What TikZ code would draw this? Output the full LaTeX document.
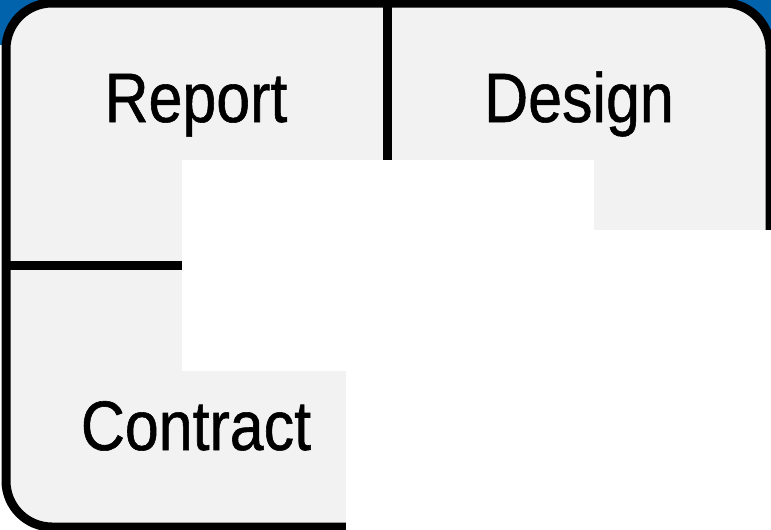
\documentclass[tikz,border=0pt]{standalone}
\usepackage{fontspec}
\setmainfont[FakeStretch=0.87,FakeBold=0.8]{Liberation Sans}
\definecolor{headerblue}{RGB}{0,99,172}
\definecolor{cellgray}{RGB}{242,242,242}
\begin{document}
\begin{tikzpicture}[x=1pt,y=-1pt,
  frame/.style={draw=black,line width=9pt,fill=cellgray,rounded corners=46pt},
  divider/.style={draw=black,line width=9pt},
  label/.style={font=\fontsize{70}{70}\selectfont,anchor=base,inner sep=0pt}]
\useasboundingbox (0,0) rectangle (771,530);
% blue header strip behind the top corners
\fill[headerblue] (0,0) rectangle (771,45);
% outer frame
\path[frame] (6,3) rectangle (770,527);
% dividers
\coordinate (vtop) at (387.5,3);
\coordinate (vbot) at (387.5,170);
\coordinate (hleft) at (6,265.5);
\coordinate (hright) at (190,265.5);
\draw[divider] (vtop) -- (vbot);
\draw[divider] (hleft) -- (hright);
% blank area
\fill[white] (182,160) -- (594,160) -- (594,230) -- (772,230) -- (772,531)
  -- (346,531) -- (346,371) -- (182,371) -- cycle;
% cell labels
\node[label] (report) at (196,122) {Report};
\node[label] (design) at (579,122) {Design};
\node[label] (contract) at (196,450) {Contract};
\end{tikzpicture}
\end{document}
